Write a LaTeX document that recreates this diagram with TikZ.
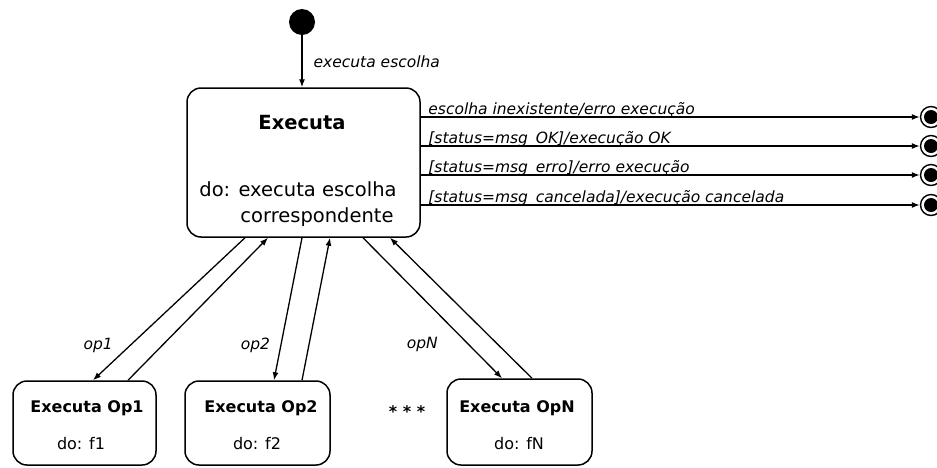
\documentclass[tikz,border=0pt]{standalone}
\usepackage{fontspec}
\setmainfont{DejaVu Sans}
\usetikzlibrary{arrows.meta,calc}

\tikzset{
  statebox/.style={draw, line width=1.5pt, rounded corners=14pt, inner sep=0pt},
  arr/.style={line width=1.3pt, -{Latex[length=8pt,width=6pt]}},
  trans/.style={font=\fontsize{15.5}{18}\selectfont\itshape, inner sep=0pt},
  bigtitle/.style={font=\fontsize{19.5}{23}\selectfont\bfseries, inner sep=0pt},
  bigtext/.style={font=\fontsize{19.5}{23}\selectfont, inner sep=0pt},
  smalltitle/.style={font=\fontsize{16}{19}\selectfont\bfseries, inner sep=0pt},
  smalltext/.style={font=\fontsize{16}{19}\selectfont, inner sep=0pt},
  initstate/.style={circle, fill, inner sep=0pt, minimum size=26pt},
  finalstate/.style={circle, draw, line width=1.4pt, inner sep=0pt, minimum size=21pt,
    path picture={\fill (path picture bounding box.center) circle (7pt);}},
}

\begin{document}
\begin{tikzpicture}[x=1pt, y=-1pt]
  \useasboundingbox (0,0) rectangle (937,467);

  % states
  \node[initstate] (init) at (302,22) {};
  \node[statebox, minimum width=233pt, minimum height=149pt] (exe) at (303.5,162.5) {};
  \node[statebox, minimum width=143pt, minimum height=84pt] (op1) at (84.5,423) {};
  \node[statebox, minimum width=145pt, minimum height=84pt] (op2) at (257.5,423) {};
  \node[statebox, minimum width=145pt, minimum height=86pt] (opn) at (519.5,422) {};

  % final states
  \node[finalstate] (f1) at (931,117) {};
  \node[finalstate] (f2) at (931,146) {};
  \node[finalstate] (f3) at (931,175) {};
  \node[finalstate] (f4) at (931,205) {};

  % texts inside the states
  \node[bigtitle] (exetitle) at (302,123) {Executa};
  \node[bigtext] (exedo) at (298,189) {do: executa escolha};
  \node[bigtext] (execorr) at (317,217) {correspondente};
  \node[smalltitle] (op1title) at (87,408) {Executa Op1};
  \node[smalltext] (op1do) at (81,444) {do: f1};
  \node[smalltitle] (op2title) at (261,408) {Executa Op2};
  \node[smalltext] (op2do) at (257,444) {do: f2};
  \node[smalltitle] (opntitle) at (517,408) {Executa OpN};
  \node[smalltext] (opndo) at (519,444) {do: fN};
  \node[smalltitle] (dots) at (407,412) {* * *};

  % initial transition
  \draw[arr] (init) -- (init |- exe.north)
    node[trans, pos=0.55, anchor=west, xshift=11pt, yshift=2pt] {executa escolha};

  % transitions to the final states
  \draw[arr] (exe.east |- f1) -- node[trans, pos=0, anchor=base west, xshift=7pt, yshift=3pt] {escolha inexistente/erro execução} (f1);
  \draw[arr] (exe.east |- f2) -- node[trans, pos=0, anchor=base west, xshift=7pt, yshift=3pt] {[status=msg\_OK]/execução OK} (f2);
  \draw[arr] (exe.east |- f3) -- node[trans, pos=0, anchor=base west, xshift=7pt, yshift=3pt] {[status=msg\_erro]/erro execução} (f3);
  \draw[arr] (exe.east |- f4) -- node[trans, pos=0, anchor=base west, xshift=7pt, yshift=3pt] {[status=msg\_cancelada]/execução cancelada} (f4);

  % operations
  \draw[arr] ([xshift=-58.5pt]exe.south) -- node[trans, pos=0.736, xshift=-35pt, yshift=-3pt] {op1} ([xshift=8.5pt]op1.north);
  \draw[arr] ([xshift=43.5pt]op1.north) -- ([xshift=-35.5pt]exe.south);
  \draw[arr] ([xshift=-1.5pt]exe.south) -- node[trans, pos=0.736, xshift=-26pt, yshift=-3pt] {op2} ([xshift=16.5pt]op2.north);
  \draw[arr] ([xshift=44.5pt]op2.north) -- ([xshift=26.5pt]exe.south);
  \draw[arr] ([xshift=59.5pt]exe.south) -- node[trans, pos=0.736, xshift=-43pt, yshift=-3pt] {opN} ([xshift=-17.5pt]opn.north);
  \draw[arr] ([xshift=12.5pt]opn.north) -- ([xshift=86.5pt]exe.south);
\end{tikzpicture}
\end{document}
